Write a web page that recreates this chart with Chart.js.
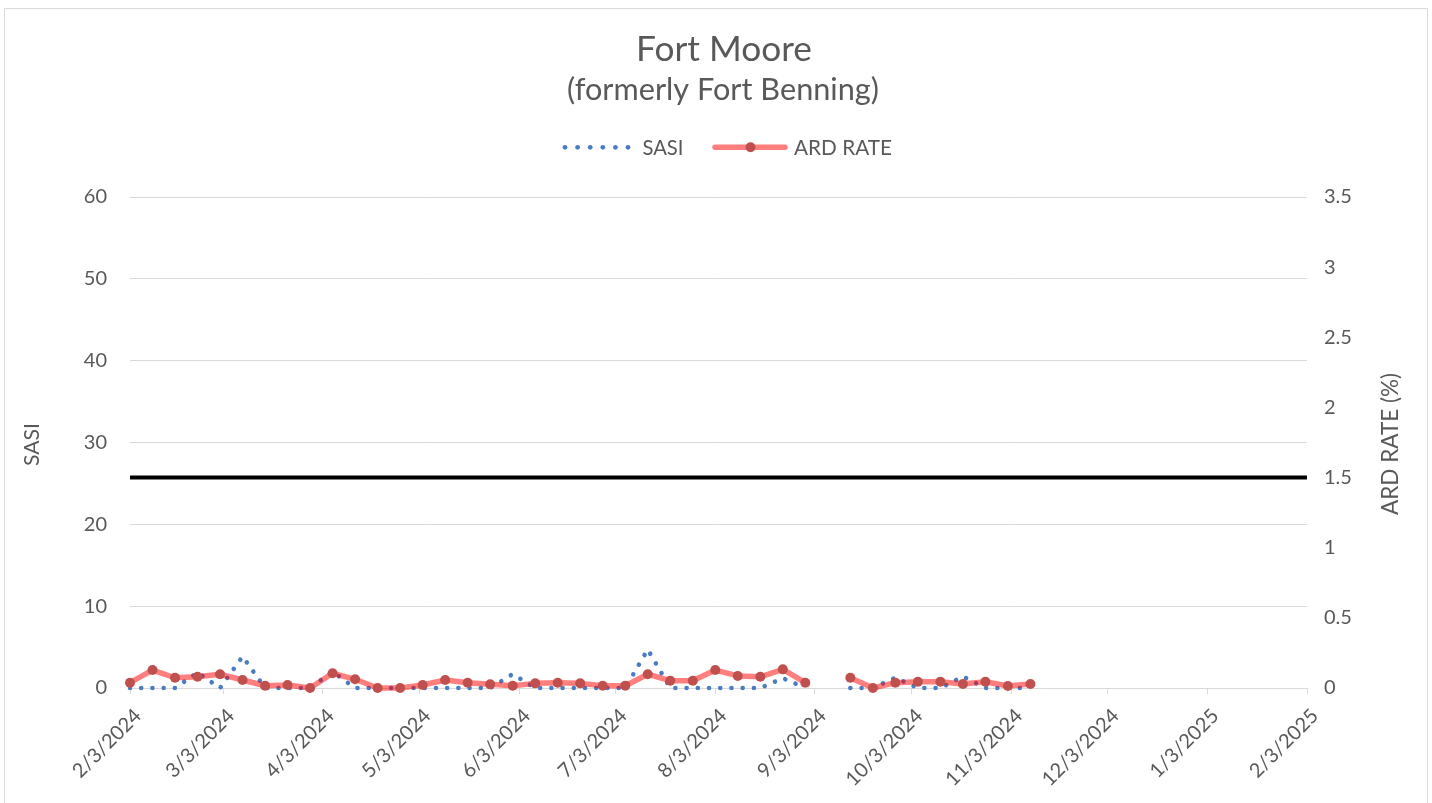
<!DOCTYPE html>
<html>
<head>
<meta charset="utf-8">
<script src="https://cdn.jsdelivr.net/npm/chart.js@4.4.1/dist/chart.umd.min.js"></script>
<style>
html,body{margin:0;padding:0;background:#fff;overflow:hidden}
#wrap{width:1432px;height:803px;position:relative}
canvas{display:block}
</style>
</head>
<body>
<div id="wrap"><canvas id="c" width="1432" height="803"></canvas></div>
<script>
// ---------- data ----------
const weekDates = [
  "2/3/2024","2/10/2024","2/17/2024","2/24/2024","3/2/2024","3/9/2024","3/16/2024","3/23/2024","3/30/2024",
  "4/6/2024","4/13/2024","4/20/2024","4/27/2024","5/4/2024","5/11/2024","5/18/2024","5/25/2024",
  "6/1/2024","6/8/2024","6/15/2024","6/22/2024","6/29/2024","7/6/2024","7/13/2024","7/20/2024","7/27/2024",
  "8/3/2024","8/10/2024","8/17/2024","8/24/2024","8/31/2024","9/7/2024","9/14/2024","9/21/2024","9/28/2024",
  "10/5/2024","10/12/2024","10/19/2024","10/26/2024","11/2/2024","11/9/2024"
];
const sasi = [
  0,0,0,1.9,0,3.85,0,0,0,2.0,
  0,0,0,0,0,0,0,1.7,0,0,
  0,0,0,4.7,0,0,0,0,0,1.2,
  0,null,0,0,1.25,0,0,1.4,0,0,
  0
];
const ardRate = [
  0.038,0.128,0.073,0.08,0.098,0.057,0.016,0.021,0,0.105,
  0.062,0,0,0.021,0.057,0.038,0.026,0.016,0.033,0.038,
  0.033,0.016,0.016,0.098,0.052,0.052,0.128,0.086,0.08,0.133,
  0.038,null,0.073,0,0.038,0.045,0.045,0.028,0.045,0.014,
  0.028
];
const xTickLabels = [
  "2/3/2024","3/3/2024","4/3/2024","5/3/2024","6/3/2024","7/3/2024","8/3/2024",
  "9/3/2024","10/3/2024","11/3/2024","12/3/2024","1/3/2025","2/3/2025"
];
const sasiTicks = [0,10,20,30,40,50,60];
const ardTicks = [0,0.5,1,1.5,2,2.5,3,3.5];
const ardThreshold = 1.5;
const titleText = "Fort Moore";
const subtitleText = "(formerly Fort Benning)";

// ---------- helpers ----------
function dayIndex(s){
  const [m,d,y] = s.split("/").map(Number);
  return Math.round((Date.UTC(y,m-1,d) - Date.UTC(2024,1,3)) / 86400000);
}
const xMin = dayIndex(xTickLabels[0]);
const xMax = dayIndex(xTickLabels[xTickLabels.length-1]);
const tickLabelByDay = {};
xTickLabels.forEach(l => tickLabelByDay[dayIndex(l)] = l);

const sasiPts = weekDates.map((d,i) => ({x: dayIndex(d), y: sasi[i]}));
const ardPts = weekDates.map((d,i) => ({x: dayIndex(d), y: ardRate[i]}));
const threshPts = [{x: xMin, y: ardThreshold}, {x: xMax, y: ardThreshold}];

const FONT = "Lato, 'Open Sans', sans-serif";
const TXT = "#595959";
const GRID = "#d9d9d9";
const BLUE = "#4a7cc3";
const RED_LINE = "rgba(255,0,0,0.5)";
const RED_PT = "#c0504d";

function fitFont(ctx, text, width){
  ctx.font = "100px " + FONT;
  return 100 * width / ctx.measureText(text).width;
}

const decor = {
  id: "decor",
  beforeDraw(chart){
    const ctx = chart.ctx;
    ctx.save();
    ctx.fillStyle = "#fff";
    ctx.fillRect(0,0,chart.width,chart.height);
    ctx.strokeStyle = GRID;
    ctx.lineWidth = 1;
    ctx.beginPath();
    ctx.moveTo(4.5, 810); ctx.lineTo(4.5, 8.5); ctx.lineTo(1427.5, 8.5); ctx.lineTo(1427.5, 810);
    ctx.stroke();
    ctx.restore();
  },
  afterDraw(chart){
    const ctx = chart.ctx;
    ctx.save();
    ctx.fillStyle = TXT;
    ctx.textBaseline = "alphabetic";
    // title
    ctx.textAlign = "center";
    let s = fitFont(ctx, titleText, 176);
    ctx.font = s.toFixed(2) + "px " + FONT;
    ctx.fillText(titleText, 724, 61);
    s = fitFont(ctx, subtitleText, 312);
    ctx.font = s.toFixed(2) + "px " + FONT;
    ctx.fillText(subtitleText, 723, 100);

    // legend
    const ly = 147.3;
    ctx.fillStyle = BLUE;
    for (let i = 0; i < 6; i++){
      ctx.beginPath();
      ctx.arc(565 + i*12.6, ly, 2.4, 0, Math.PI*2);
      ctx.fill();
    }
    ctx.fillStyle = TXT;
    ctx.textAlign = "left";
    s = fitFont(ctx, "SASI", 41);
    ctx.font = s.toFixed(2) + "px " + FONT;
    ctx.fillText("SASI", 642.5, 154.5);
    ctx.strokeStyle = RED_LINE;
    ctx.lineWidth = 5.5;
    ctx.lineCap = "round";
    ctx.beginPath(); ctx.moveTo(715, ly); ctx.lineTo(785, ly); ctx.stroke();
    ctx.fillStyle = RED_PT;
    ctx.beginPath(); ctx.arc(750.5, ly, 5, 0, Math.PI*2); ctx.fill();
    ctx.fillStyle = TXT;
    s = fitFont(ctx, "ARD RATE", 98);
    ctx.font = s.toFixed(2) + "px " + FONT;
    ctx.fillText("ARD RATE", 794, 154.5);

    // axis titles
    ctx.textAlign = "center";
    s = fitFont(ctx, "SASI", 43);
    ctx.font = s.toFixed(2) + "px " + FONT;
    ctx.save(); ctx.translate(39, 444.5); ctx.rotate(-Math.PI/2); ctx.fillText("SASI", 0, 0); ctx.restore();
    s = fitFont(ctx, "ARD RATE (%)", 142);
    ctx.font = s.toFixed(2) + "px " + FONT;
    ctx.save(); ctx.translate(1398, 444); ctx.rotate(-Math.PI/2); ctx.fillText("ARD RATE (%)", 0, 0); ctx.restore();
    ctx.restore();
  }
};

Chart.defaults.font.family = FONT;
Chart.defaults.color = TXT;

new Chart(document.getElementById("c"), {
  type: "line",
  data: {
    datasets: [
      {
        label: "ARD RATE", data: ardPts, yAxisID: "y1", order: 0,
        borderColor: RED_LINE, borderWidth: 5.5, borderJoinStyle: "round", borderCapStyle: "round",
        pointRadius: 5, pointBackgroundColor: RED_PT, pointBorderColor: RED_PT, pointBorderWidth: 0,
        spanGaps: false, tension: 0, clip: false
      },
      {
        label: "SASI", data: sasiPts, yAxisID: "y", order: 1,
        borderColor: BLUE, borderWidth: 4.6, borderDash: [0.01, 11.2], borderCapStyle: "round",
        pointRadius: 0, spanGaps: false, tension: 0, clip: false
      },
      {
        label: "Threshold", data: threshPts, yAxisID: "y1", order: 2,
        borderColor: "#000", borderWidth: 4, pointRadius: 0, tension: 0, clip: false
      }
    ]
  },
  options: {
    responsive: false,
    animation: false,
    devicePixelRatio: 1,
    layout: { padding: { top: 197, left: 0, right: 0, bottom: 0 } },
    plugins: { legend: { display: false }, tooltip: { enabled: false }, title: { display: false } },
    scales: {
      x: {
        type: "linear", min: xMin, max: xMax,
        afterBuildTicks(scale){ scale.ticks = xTickLabels.map(l => ({ value: dayIndex(l) })); },
        afterFit(scale){ scale.height = 115; },
        ticks: {
          autoSkip: false, maxRotation: 45, minRotation: 45, padding: 10, labelOffset: 8,
          font: { size: 20, family: FONT }, color: TXT,
          callback: (v) => tickLabelByDay[v] ?? ""
        },
        grid: { display: true, drawOnChartArea: false, drawTicks: true, tickLength: 6, color: GRID, lineWidth: 1 },
        border: { display: true, color: GRID, width: 1 }
      },
      y: {
        position: "left", min: sasiTicks[0], max: sasiTicks[sasiTicks.length-1],
        afterBuildTicks(scale){ scale.ticks = sasiTicks.map(v => ({ value: v })); },
        afterFit(scale){ scale.width = 130; },
        ticks: { padding: 23, font: { size: 20, family: FONT }, color: TXT },
        grid: { color: GRID, lineWidth: 1, drawTicks: false },
        border: { display: false }
      },
      y1: {
        position: "right", min: ardTicks[0], max: ardTicks[ardTicks.length-1],
        afterBuildTicks(scale){ scale.ticks = ardTicks.map(v => ({ value: v })); },
        afterFit(scale){ scale.width = 125; },
        ticks: { padding: 17, font: { size: 20, family: FONT }, color: TXT, callback: v => String(v) },
        grid: { display: false, drawTicks: false },
        border: { display: false }
      }
    }
  },
  plugins: [decor]
});
</script>
</body>
</html>
